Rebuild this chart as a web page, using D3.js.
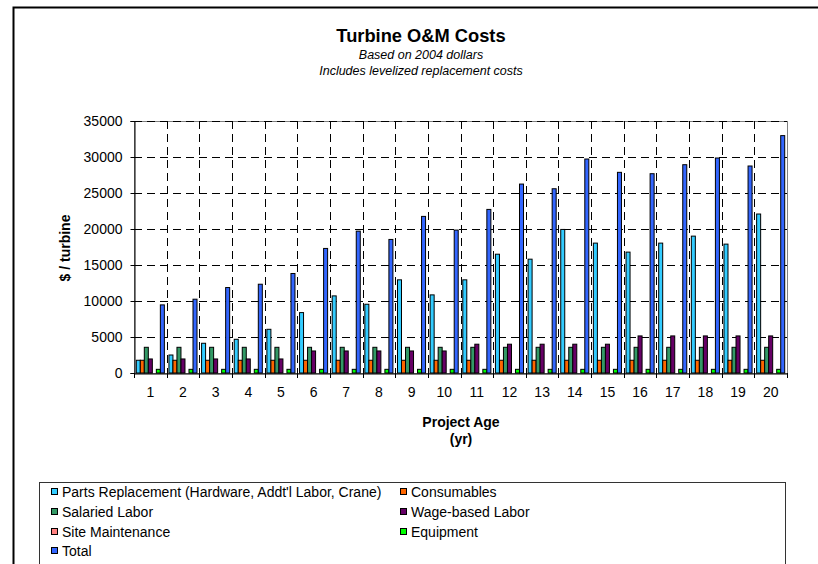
<!DOCTYPE html>
<html>
<head>
<meta charset="utf-8">
<script src="https://cdn.jsdelivr.net/npm/d3@7"></script>
<style>
  html, body { margin: 0; padding: 0; background: #fff; }
  svg { display: block; font-family: "Liberation Sans", Arial, sans-serif; }
</style>
</head>
<body>
<svg id="chart" width="818" height="564"></svg>
<script>
// ---- data ----
const years = ["1","2","3","4","5","6","7","8","9","10","11","12","13","14","15","16","17","18","19","20"];
const seriesNames = [
  "Parts Replacement (Hardware, Addt'l Labor, Crane)",
  "Consumables",
  "Salaried Labor",
  "Wage-based Labor",
  "Site Maintenance",
  "Equipment",
  "Total"
];
const partsReplacement = [1770, 2500, 4130, 4680, 6070, 8390, 10710, 9550, 12940, 10850, 12940, 16500, 15810, 19940, 18040, 16790, 18040, 19010, 17900, 22080];
const consumables = [1770, 1770, 1770, 1770, 1770, 1770, 1770, 1770, 1770, 1770, 1770, 1770, 1770, 1770, 1770, 1770, 1770, 1770, 1770, 1770];
const salariedLabor = [3570, 3570, 3570, 3570, 3570, 3570, 3570, 3570, 3570, 3570, 3570, 3570, 3570, 3570, 3570, 3570, 3570, 3570, 3570, 3570];
const wageLabor = [1950, 1950, 1950, 1950, 1950, 3060, 3060, 3060, 3060, 3060, 4000, 4000, 4000, 4000, 4000, 5150, 5150, 5150, 5150, 5150];
const siteMaintenance = [0, 0, 0, 0, 0, 0, 0, 0, 0, 0, 0, 0, 0, 0, 0, 0, 0, 0, 0, 0];
const equipment = [510, 510, 510, 510, 510, 510, 510, 510, 510, 510, 510, 510, 510, 510, 510, 510, 510, 510, 510, 510];
const total = [9460, 10250, 11870, 12330, 13820, 17300, 19700, 18550, 21750, 19850, 22720, 26240, 25590, 29720, 27870, 27680, 28930, 29860, 28750, 32970];
const yTicks = [0, 5000, 10000, 15000, 20000, 25000, 30000, 35000];
const colors = ["#33CCFF", "#FF6600", "#339966", "#660066", "#FF8080", "#00FF00", "#3366FF"];

const seriesValues = [partsReplacement, consumables, salariedLabor, wageLabor, siteMaintenance, equipment, total];

// ---- layout ----
const svg = d3.select("#chart");
const plot = { left: 134, right: 787, top: 121, bottom: 373 };
const FONT = "'Liberation Sans', Arial, sans-serif";

// outer chart border
svg.append("rect").attr("x", 13.5).attr("y", 7.5).attr("width", 900).attr("height", 700)
  .attr("fill", "#fff").attr("stroke", "#000").attr("stroke-width", 2);

const x = d3.scaleBand().domain(years).range([plot.left, plot.right]).paddingInner(0).paddingOuter(0);
const bw = x.bandwidth();
const gap = bw * 0.14;
const xs = d3.scaleBand().domain(d3.range(seriesNames.length)).range([gap / 2, bw - gap / 2]).padding(0);
const y = d3.scaleLinear().domain([0, 35000]).range([plot.bottom, plot.top]);

// title
const cx = 421;
svg.append("text").attr("x", cx).attr("y", 42).attr("text-anchor", "middle")
  .attr("font-size", 18.3).attr("font-weight", "bold").text("Turbine O&M Costs");
svg.append("text").attr("x", cx).attr("y", 59).attr("text-anchor", "middle")
  .attr("font-size", 12.5).attr("font-style", "italic").text("Based on 2004 dollars");
svg.append("text").attr("x", cx).attr("y", 75).attr("text-anchor", "middle")
  .attr("font-size", 12.5).attr("font-style", "italic").text("Includes levelized replacement costs");

// plot area border
svg.append("rect").attr("x", plot.left + 0.5).attr("y", plot.top + 0.5)
  .attr("width", plot.right - plot.left).attr("height", plot.bottom - plot.top)
  .attr("fill", "none").attr("stroke", "#808080").attr("stroke-width", 1);

// horizontal gridlines
svg.append("g").selectAll("line").data(yTicks.filter(d => d > 0)).join("line")
  .attr("x1", plot.left).attr("x2", plot.right)
  .attr("y1", d => Math.round(y(d)) + 0.5).attr("y2", d => Math.round(y(d)) + 0.5)
  .attr("stroke", "#000").attr("stroke-width", 1).attr("stroke-dasharray", "8,5");

// vertical gridlines at category boundaries
svg.append("g").selectAll("line").data(years.slice(1)).join("line")
  .attr("x1", d => Math.round(x(d)) + 0.5).attr("x2", d => Math.round(x(d)) + 0.5)
  .attr("y1", plot.top).attr("y2", plot.bottom)
  .attr("stroke", "#000").attr("stroke-width", 1).attr("stroke-dasharray", "8,5");

// bars
const groups = svg.append("g").selectAll("g").data(years).join("g")
  .attr("transform", d => `translate(${x(d)},0)`);
groups.selectAll("rect").data((d, i) => seriesValues.map((s, k) => ({ k, v: s[i] }))).join("rect")
  .filter(d => d.v > 0)
  .attr("x", d => xs(d.k))
  .attr("y", d => y(d.v))
  .attr("width", xs.bandwidth())
  .attr("height", d => y(0) - y(d.v))
  .attr("fill", d => colors[d.k])
  .attr("stroke", "#000").attr("stroke-width", 1);

// y axis
const yAxis = d3.axisLeft(y).tickValues(yTicks).tickSize(4).tickPadding(8).tickFormat(d3.format("d"));
const gy = svg.append("g").attr("transform", `translate(${plot.left + 0.5},0)`).call(yAxis);
gy.select(".domain").attr("stroke", "#000");
gy.selectAll(".tick line").attr("stroke", "#000");
gy.selectAll(".tick text").attr("font-size", 14).attr("fill", "#000").attr("font-family", FONT);

// x axis
const xAxis = d3.axisBottom(x).tickSize(0).tickPadding(14);
const gx = svg.append("g").attr("transform", `translate(0,${plot.bottom + 0.5})`).call(xAxis);
gx.select(".domain").attr("stroke", "#000");
gx.selectAll(".tick text").attr("font-size", 14).attr("fill", "#000").attr("font-family", FONT);
// tick marks at category boundaries
svg.append("g").selectAll("line").data(d3.range(years.length + 1)).join("line")
  .attr("x1", i => Math.round(plot.left + i * bw) + 0.5).attr("x2", i => Math.round(plot.left + i * bw) + 0.5)
  .attr("y1", plot.bottom).attr("y2", plot.bottom + 5)
  .attr("stroke", "#000");

// axis titles
svg.append("text").attr("x", 461).attr("y", 427).attr("text-anchor", "middle")
  .attr("font-size", 14).attr("font-weight", "bold").text("Project Age");
svg.append("text").attr("x", 461).attr("y", 444).attr("text-anchor", "middle")
  .attr("font-size", 14).attr("font-weight", "bold").text("(yr)");
svg.append("text").attr("transform", "translate(70,248) rotate(-90)").attr("text-anchor", "middle")
  .attr("font-size", 14).attr("font-weight", "bold").text("$ / turbine");

// legend
svg.append("rect").attr("x", 39.5).attr("y", 482.5).attr("width", 746).attr("height", 120)
  .attr("fill", "#fff").attr("stroke", "#333").attr("stroke-width", 1);
const legendPos = [
  [51, 492], [400, 492],
  [51, 512], [400, 512],
  [51, 532], [400, 532],
  [51, 551]
];
const lg = svg.append("g").selectAll("g").data(seriesNames).join("g")
  .attr("transform", (d, i) => `translate(${legendPos[i][0]},${legendPos[i][1]})`);
lg.append("rect").attr("x", 0.5).attr("y", -3.5).attr("width", 6).attr("height", 6)
  .attr("fill", (d, i) => colors[i]).attr("stroke", "#000").attr("stroke-width", 1);
lg.append("text").attr("x", 11).attr("y", 5).attr("font-size", 14).text(d => d);
</script>
</body>
</html>
